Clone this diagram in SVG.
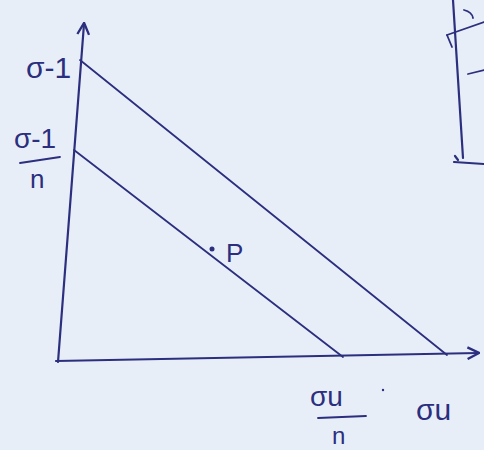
<svg xmlns="http://www.w3.org/2000/svg" width="484" height="450" viewBox="0 0 484 450">
<style>
.ink{stroke:#2b2f7e;stroke-width:2.2;fill:none;stroke-linecap:round;stroke-linejoin:round}
.thin{stroke:#2b2f7e;stroke-width:1.8;fill:none;stroke-linecap:round}
.t{font-family:"Liberation Sans",Arial,sans-serif;fill:#2b2f7e}
</style>
<defs>
<marker id="arr" viewBox="0 0 12 12" refX="10" refY="6" markerWidth="14" markerHeight="14" markerUnits="userSpaceOnUse" orient="auto">
<path d="M1,1 L11,6 L1,11" fill="none" stroke="#2b2f7e" stroke-width="2"/>
</marker>
</defs>
<rect width="484" height="450" fill="#e8eef8"/>
<g id="connectors">
<path class="ink" d="M58,362 L84,24" marker-end="url(#arr)"/>
<path class="ink" d="M56,361 L478,353" marker-end="url(#arr)"/>
<path class="thin" d="M80,60 L447,355"/>
<path class="thin" d="M74,150 L343,357"/>
</g>
<g id="axis-labels">
<text class="t" x="26" y="78" font-size="30">σ-1</text>
<text class="t" x="14" y="148" font-size="28">σ-1</text>
<path class="thin" d="M20,163 L60,157"/>
<text class="t" x="30" y="188" font-size="26">n</text>
<text class="t" x="310" y="406" font-size="28">σu</text>
<path class="thin" d="M318,418 L366,416"/>
<text class="t" x="332" y="444" font-size="24">n</text>
<circle cx="383" cy="390" r="1.2" fill="#2b2f7e"/>
<text class="t" x="416" y="420" font-size="30">σu</text>
</g>
<g id="P">
<circle cx="212" cy="249" r="2.5" fill="#2b2f7e"/>
<text class="t" x="226" y="262" font-size="26">P</text>
</g>
<g id="fragment">
<path class="ink" d="M453,0 L463,158"/>
<path class="thin" d="M447,35 L484,22"/>
<path class="thin" d="M447,35 L452,47"/>
<path class="thin" d="M464,10 Q472,12 473,18"/>
<path class="thin" d="M468,74 L484,70"/>
<path class="ink" d="M454,162 L484,164"/>
<path class="ink" d="M455,156 L458,160"/>
</g>
</svg>
